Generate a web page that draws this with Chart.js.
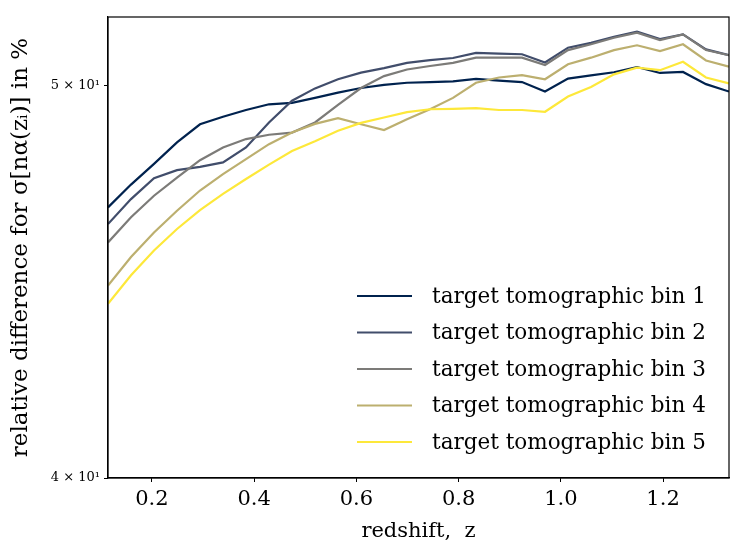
<!DOCTYPE html>
<html>
<head>
<meta charset="utf-8">
<script src="https://cdn.jsdelivr.net/npm/chart.js@4.4.1/dist/chart.umd.min.js"></script>
<style>
  html, body { margin: 0; padding: 0; background: #fff; }
  #wrap { width: 747px; height: 560px; }
</style>
</head>
<body>
<div id="wrap"><canvas id="myChart" width="747" height="560"></canvas></div>
<script>
// redshift grid
const redshift = [0.114, 0.159, 0.204, 0.249, 0.294, 0.339, 0.384, 0.429, 0.474, 0.519,
    0.564, 0.609, 0.654, 0.699, 0.744, 0.789, 0.834, 0.879, 0.924, 0.969,
    1.014, 1.059, 1.104, 1.149, 1.194, 1.239, 1.284, 1.329]

// relative difference in % per target bin
const bin1 = [46.66, 47.27, 47.83, 48.42, 48.92, 49.13, 49.32, 49.48, 49.52, 49.66,
    49.81, 49.94, 50.03, 50.09, 50.11, 50.13, 50.20, 50.15, 50.11, 49.84,
    50.21, 50.30, 50.39, 50.54, 50.37, 50.40, 50.05, 49.84]
const bin2 = [46.22, 46.88, 47.44, 47.66, 47.75, 47.87, 48.28, 48.97, 49.58, 49.93,
    50.19, 50.38, 50.51, 50.66, 50.74, 50.80, 50.95, 50.93, 50.91, 50.67,
    51.10, 51.24, 51.42, 51.57, 51.35, 51.49, 51.05, 50.88]
const bin3 = [45.74, 46.40, 46.97, 47.46, 47.93, 48.28, 48.51, 48.63, 48.69, 48.97,
    49.46, 49.94, 50.28, 50.47, 50.57, 50.66, 50.81, 50.81, 50.81, 50.60,
    51.03, 51.20, 51.39, 51.54, 51.32, 51.49, 51.03, 50.88]
const bin4 = [44.63, 45.36, 46.00, 46.57, 47.11, 47.55, 47.96, 48.37, 48.69, 48.93,
    49.09, 48.92, 48.76, 49.06, 49.34, 49.66, 50.09, 50.24, 50.31, 50.19,
    50.62, 50.81, 51.03, 51.17, 51.00, 51.20, 50.73, 50.55]
const bin5 = [44.17, 44.89, 45.53, 46.09, 46.59, 47.02, 47.42, 47.81, 48.18, 48.45,
    48.74, 48.96, 49.11, 49.26, 49.34, 49.35, 49.37, 49.32, 49.32, 49.27,
    49.70, 49.97, 50.33, 50.52, 50.45, 50.69, 50.24, 50.07]

const labels = ['target tomographic bin 1', 'target tomographic bin 2', 'target tomographic bin 3',
    'target tomographic bin 4', 'target tomographic bin 5']
const colors = ['#00224e', '#414d6b', '#7c7b78', '#bcaf6f', '#fde83a']
const xTicks = [0.2, 0.4, 0.6, 0.8, 1.0, 1.2]
const yTicks = [40, 50]

const serif = "'DejaVu Serif', 'Liberation Serif', serif"

const series = [bin1, bin2, bin3, bin4, bin5]
const datasets = series.map((vals, i) => ({
    label: labels[i],
    data: vals.map((v, j) => ({ x: redshift[j], y: v })),
    borderColor: colors[i],
    backgroundColor: colors[i],
    borderWidth: 2.2,
    pointRadius: 0,
    tension: 0,
    order: series.length - i
}))

// matplotlib-like box around the axes + legend inside the plot
const frameAndLegend = {
    id: 'frameAndLegend',
    afterDraw(chart) {
        const { ctx, chartArea: a } = chart
        ctx.save()
        ctx.strokeStyle = '#000'
        ctx.lineWidth = 1.2
        ctx.strokeRect(a.left, a.top, a.right - a.left, a.bottom - a.top)

        ctx.font = '21.5px ' + serif
        ctx.textBaseline = 'middle'
        ctx.textAlign = 'left'
        labels.forEach((txt, i) => {
            const y = 296 + i * 36.5
            ctx.strokeStyle = colors[i]
            ctx.lineWidth = 2.2
            ctx.beginPath()
            ctx.moveTo(357, y)
            ctx.lineTo(412, y)
            ctx.stroke()
            ctx.fillStyle = '#000'
            ctx.fillText(txt, 432, y + 1)
        })
        ctx.restore()
    }
}

const chart = new Chart(document.getElementById('myChart'), {
    type: 'line',
    data: { datasets: datasets },
    options: {
        responsive: false,
        animation: false,
        layout: { padding: { top: 17, right: 18, left: 0, bottom: 0 } },
        plugins: {
            legend: { display: false },
            tooltip: { enabled: false }
        },
        scales: {
            x: {
                type: 'linear',
                min: 0.114,
                max: 1.329,
                afterBuildTicks: s => { s.ticks = xTicks.map(v => ({ value: v })) },
                afterFit: s => { s.height = 82 },
                grid: { drawOnChartArea: false, drawTicks: true, tickLength: 4, color: '#000' },
                border: { display: true, color: '#000', width: 1.2 },
                ticks: {
                    color: '#000',
                    padding: 5,
                    maxRotation: 0,
                    autoSkip: false,
                    font: { family: serif, size: 21 },
                    callback: v => v.toFixed(1)
                },
                title: {
                    display: true,
                    text: 'redshift,  z',
                    color: '#000',
                    font: { family: serif, size: 21 },
                    padding: { top: 0, bottom: 16 }
                }
            },
            y: {
                type: 'logarithmic',
                min: 40,
                max: 52,
                afterBuildTicks: s => { s.ticks = yTicks.map(v => ({ value: v })) },
                afterFit: s => { s.width = 108 },
                grid: { drawOnChartArea: false, drawTicks: true, tickLength: 4, color: '#000' },
                border: { display: true, color: '#000', width: 1.2 },
                ticks: {
                    color: '#000',
                    padding: 4,
                    autoSkip: false,
                    font: { family: serif, size: 13 },
                    callback: v => (v / 10) + ' × 10¹'
                },
                title: {
                    display: true,
                    text: 'relative difference for σ[nα(zᵢ)] in %',
                    color: '#000',
                    font: { family: serif, size: 23 },
                    padding: { top: 7, bottom: 0 }
                }
            }
        }
    },
    plugins: [frameAndLegend]
})
</script>
</body>
</html>
